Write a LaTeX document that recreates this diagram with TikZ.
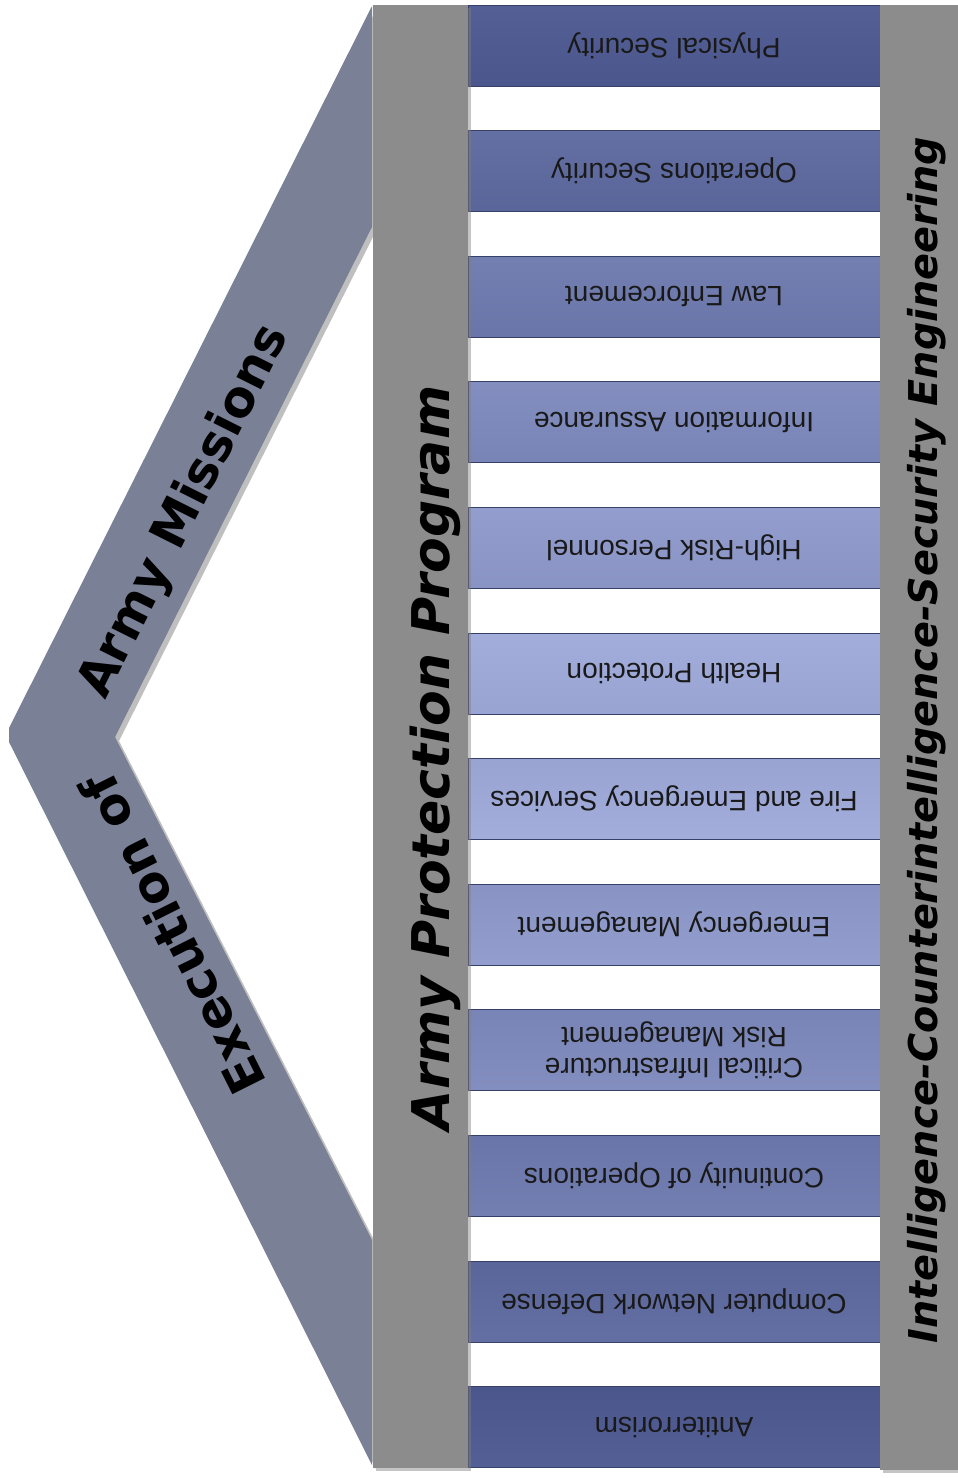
\documentclass[tikz,border=0pt]{standalone}
\usepackage{fontspec}
\setmainfont{Liberation Sans}
\newfontfamily\headfont{DejaVu Sans}
\usetikzlibrary{shadows}
\definecolor{pillargray}{RGB}{140,140,140}
\definecolor{armgray}{RGB}{122,128,150}
\definecolor{bardark}{RGB}{74,86,140}
\definecolor{barlight}{RGB}{165,176,222}

\begin{document}
\begin{tikzpicture}[x=1pt, y=-1pt,
  pillar/.style={fill=pillargray, inner sep=0pt,
                 drop shadow={opacity=0.45, shadow xshift=3pt, shadow yshift=-3pt}},
  bar/.style={draw=bardark!75!black, line width=0.8pt, minimum width=412pt, minimum height=81pt,
              inner sep=0pt, rotate=180, align=center, text=black!90,
              font=\fontsize{28}{31}\selectfont},
  pillartext/.style={rotate=90, inner sep=0pt, font=\headfont\bfseries\itshape},
  armtext/.style={inner sep=0pt, font=\headfont\bfseries\fontsize{50}{56}\selectfont}
]
  \fill[white] (0,0) rectangle (958,1478);
  \useasboundingbox (0,0) rectangle (958,1478);

  % mission chevron
  \fill[armgray, drop shadow={opacity=0.5, shadow xshift=4pt, shadow yshift=-4pt}]
    (372,6) -- (9,728) -- (9,742) -- (372,1465) -- (372,1240) -- (115,737) -- (372,227) -- cycle;
  \node[armtext, rotate=63.4]  (missions)  at (185,512) {Army Missions};
  \node[armtext, rotate=116.6] (execution) at (172,934) {Execution of};

  % program elements
  \foreach \lbl [count=\i from 0] in {Physical Security, Operations Security, Law Enforcement,
      Information Assurance, High-Risk Personnel, Health Protection,
      Fire and Emergency Services, Emergency Management,
      {Critical Infrastructure\\Risk Management}, Continuity of Operations,
      Computer Network Defense, Antiterrorism}{
    \pgfmathsetmacro{\ytop}{5+125.6*\i}
    \pgfmathsetmacro{\ybot}{\ytop+81}
    \pgfmathsetmacro{\lt}{max(0,100*(1-abs(\ytop-736)/731))}
    \pgfmathsetmacro{\lb}{max(0,100*(1-abs(\ybot-736)/731))}
    % rotated node: top color ends up at the bottom
    \node[bar, top color=barlight!\lb!bardark, bottom color=barlight!\lt!bardark]
      (elem\i) at (674,\ytop+40.5) {\lbl};
  }

  % pillars
  \node[pillar, minimum width=95pt, minimum height=1463pt] (app) at (420.5,736.5) {};
  \node[pillar, minimum width=78pt, minimum height=1465pt] (ice) at (919,737.5) {};
  \node[pillartext, font=\headfont\bfseries\itshape\fontsize{52}{60}\selectfont]
    (apptext) at (435,758) {Army Protection Program};
  \node[pillartext, font=\headfont\bfseries\itshape\fontsize{39.7}{46}\selectfont]
    (icetext) at (927,740) {Intelligence-Counterintelligence-Security Engineering};
\end{tikzpicture}
\end{document}
